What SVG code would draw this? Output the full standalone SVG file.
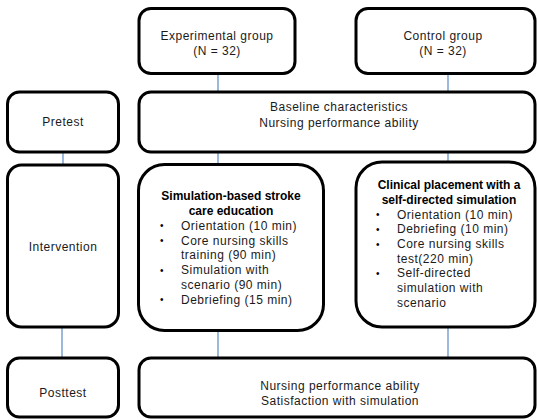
<svg xmlns="http://www.w3.org/2000/svg" width="537" height="420" viewBox="0 0 537 420">
<style>
.box{fill:#fff;stroke:#000;stroke-width:3}
.t{font-family:"Liberation Sans",Arial,sans-serif;font-size:12px;fill:#1a1a1a;letter-spacing:0.5px}
.c{text-anchor:middle}
.b{font-family:"Liberation Sans",Arial,sans-serif;font-size:12px;font-weight:bold;fill:#000;text-anchor:middle}
.bul{font-family:"Liberation Sans",Arial,sans-serif;font-size:10px;fill:#000}
.conn line{stroke:#5b8bc6;stroke-width:1.2}
</style>
<rect width="537" height="420" fill="#fff"/>
<g class="conn" id="connectors">
<line x1="218" y1="73" x2="218" y2="92"/>
<line x1="448" y1="73" x2="448" y2="92"/>
<line x1="63" y1="152" x2="63" y2="165"/>
<line x1="218" y1="152" x2="218" y2="164"/>
<line x1="448" y1="152" x2="448" y2="162"/>
<line x1="62" y1="327" x2="62" y2="358"/>
<line x1="218" y1="331" x2="218" y2="358"/>
<line x1="448" y1="327" x2="448" y2="358"/>
</g>
<g id="experimental">
<rect class="box" x="139" y="8.5" width="156" height="65" rx="12"/>
<text class="t c" x="217" y="40">Experimental group</text>
<text class="t c" x="217" y="55">(N = 32)</text>
</g>
<g id="control">
<rect class="box" x="356" y="8.5" width="179" height="65" rx="12"/>
<text class="t c" x="443" y="40">Control group</text>
<text class="t c" x="443" y="55">(N = 32)</text>
</g>
<g id="pretest">
<rect class="box" x="7.5" y="92" width="111" height="60" rx="12"/>
<text class="t c" x="63" y="126">Pretest</text>
</g>
<g id="baseline">
<rect class="box" x="139" y="92" width="396" height="60" rx="12"/>
<text class="t c" x="339" y="111">Baseline characteristics</text>
<text class="t c" x="339" y="127">Nursing performance ability</text>
</g>
<g id="intervention">
<rect class="box" x="7.5" y="165" width="111" height="162" rx="14"/>
<text class="t c" x="63" y="251">Intervention</text>
</g>
<g id="simulation">
<rect class="box" x="138.5" y="164.5" width="185" height="166" rx="26"/>
<text class="b" x="231" y="200">Simulation-based stroke</text>
<text class="b" x="231" y="215">care education</text>
<text class="bul" x="160" y="229">•</text><text class="t" x="181" y="229.5">Orientation (10 min)</text>
<text class="bul" x="160" y="244">•</text><text class="t" x="181" y="244.5">Core nursing skills</text>
<text class="t" x="181" y="259">training (90 min)</text>
<text class="bul" x="160" y="273.5">•</text><text class="t" x="181" y="274">Simulation with</text>
<text class="t" x="181" y="288.5">scenario (90 min)</text>
<text class="bul" x="160" y="303">•</text><text class="t" x="181" y="303.5">Debriefing (15 min)</text>
</g>
<g id="clinical">
<rect class="box" x="356" y="162" width="179" height="165" rx="26"/>
<text class="b" x="449" y="189">Clinical placement with a</text>
<text class="b" x="449" y="204">self-directed simulation</text>
<text class="bul" x="376" y="218">•</text><text class="t" x="397" y="218.5">Orientation (10 min)</text>
<text class="bul" x="376" y="232.5">•</text><text class="t" x="397" y="233">Debriefing (10 min)</text>
<text class="bul" x="376" y="247.5">•</text><text class="t" x="397" y="248">Core nursing skills</text>
<text class="t" x="397" y="262.5">test(220 min)</text>
<text class="bul" x="376" y="276.5">•</text><text class="t" x="397" y="277">Self-directed</text>
<text class="t" x="397" y="292">simulation with</text>
<text class="t" x="397" y="307">scenario</text>
</g>
<g id="posttest">
<rect class="box" x="7.5" y="358" width="111" height="59" rx="12"/>
<text class="t c" x="63" y="397">Posttest</text>
</g>
<g id="outcomes">
<rect class="box" x="139" y="358" width="396" height="59" rx="12"/>
<text class="t c" x="340" y="389.5">Nursing performance ability</text>
<text class="t c" x="340" y="404.5">Satisfaction with simulation</text>
</g>
</svg>
